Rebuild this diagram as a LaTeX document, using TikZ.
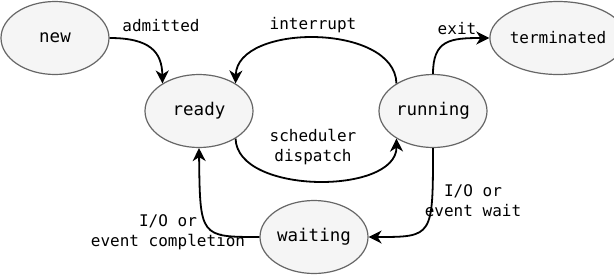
\documentclass[tikz,border=0pt]{standalone}
\usepackage{fontspec}
\setmainfont{DejaVu Sans Mono}
\usetikzlibrary{shapes.geometric,arrows.meta}
\definecolor{stategray}{HTML}{F5F5F5}
\definecolor{strokegray}{HTML}{666666}
\tikzset{
  state/.style={ellipse, draw=strokegray, fill=stategray, line width=1.2pt,
    minimum width=108pt, minimum height=73pt, inner sep=0pt, font=\fontsize{17.5}{20}\selectfont},
  trans/.style={draw=black, line width=1.8pt, -{Stealth[length=13pt,width=13pt,inset=4pt]}},
  lbl/.style={align=center, inner sep=0pt, font=\fontsize{16}{20}\selectfont}
}
\begin{document}
\begin{tikzpicture}[x=1pt,y=-1pt]
\useasboundingbox (0,0) rectangle (614,274);
\node[state] (new) at (55,38) {new};
\node[state] (ready) at (199,111) {ready};
\node[state] (running) at (433,111) {running};
\node[state, font=\fontsize{16}{20}\selectfont] (term) at (558,38) {terminated};
\node[state] (wait) at (314,237) {waiting};

\draw[trans] (new.east) .. controls (150,38) and (162,52) .. (ready.143);
\draw[trans] (running.143) .. controls (395,23) and (237,23) .. (ready.37);
\draw[trans] (running.north) .. controls (433,40) and (450,38) .. (term.west);
\draw[trans] (ready.-37) .. controls (237,195) and (397,195) .. (running.-143);
\draw[trans] (running.south) .. controls (433,237) .. (wait.east);
\draw[trans] (wait.west) .. controls (200,237) .. (ready.south);

\node[lbl] (l1) at (161,26) {admitted};
\node[lbl] (l2) at (313,25) {interrupt};
\node[lbl] (l3) at (457,29) {exit};
\node[lbl] (l4) at (313,147) {scheduler\\dispatch};
\node[lbl] (l5) at (473,201) {I/O or\\event wait};
\node[lbl] (l6) at (168,232) {I/O or\\event completion};
\end{tikzpicture}
\end{document}
